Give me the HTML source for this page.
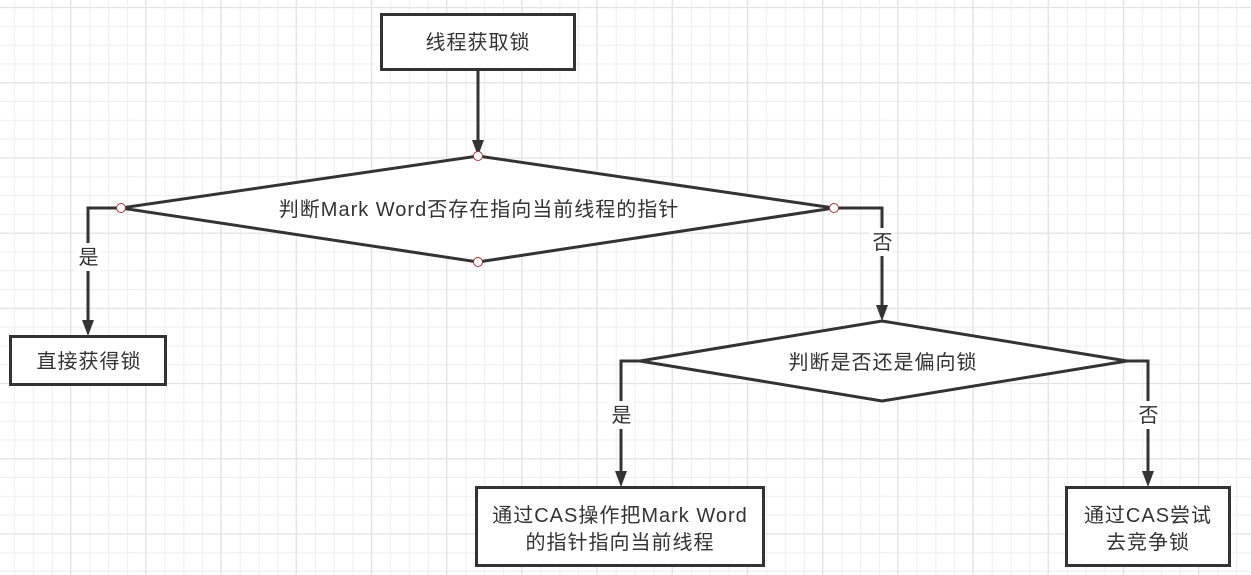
<!DOCTYPE html>
<html><head><meta charset="utf-8"><style>
body{margin:0;background:#fff}
svg{display:block}
text{font-family:"Liberation Sans","Noto Sans CJK SC",sans-serif;font-size:20px;letter-spacing:1px;fill:#333}
</style></head><body>
<svg width="1251" height="575" viewBox="0 0 1251 575" xmlns="http://www.w3.org/2000/svg">
<defs>
<pattern id="g" x="-4.7" y="7" width="18.8" height="18.8" patternUnits="userSpaceOnUse">
<path d="M0 0.5H18.8M0.5 0V18.8" stroke="#efefef" stroke-width="1.2" fill="none"/>
</pattern>
<pattern id="G" x="70" y="7" width="75.2" height="75.2" patternUnits="userSpaceOnUse">
<path d="M0 0.5H75.2M0.5 0V75.2" stroke="#e2e2e2" stroke-width="1.3" fill="none"/>
</pattern>
</defs>
<rect width="1251" height="575" fill="url(#g)"/>
<rect width="1251" height="575" fill="url(#G)"/>
<g stroke="#333" stroke-width="3" fill="none">
<path d="M478 70V142"/>
<path d="M121 208H88V322"/>
<path d="M834 208H882V307"/>
<path d="M640 361H621V473"/>
<path d="M1127 361H1148V473"/>
</g>
<g fill="#333">
<path d="M472 140L484 140L478 156Z"/>
<path d="M82 320L94 320L88 336Z"/>
<path d="M876 305L888 305L882 321Z"/>
<path d="M615 471L627 471L621 487Z"/>
<path d="M1142 471L1154 471L1148 487Z"/>
</g>
<g stroke="#333" stroke-width="3" fill="#fff">
<rect x="381.5" y="14.5" width="193" height="55"/>
<path d="M478 156L834 208L478 262L121 208Z"/>
<rect x="10.5" y="336.5" width="155" height="48"/>
<path d="M882 321L1127 361L882 401L640 361Z"/>
<rect x="476.5" y="487.5" width="287" height="78"/>
<rect x="1066.5" y="487.5" width="163" height="78"/>
</g>
<g fill="#fff">
<rect x="75" y="243" width="26" height="28"/>
<rect x="869" y="228" width="26" height="28"/>
<rect x="608" y="401" width="26" height="28"/>
<rect x="1135" y="401" width="26" height="28"/>
</g>
<g stroke="#a33" stroke-width="1" fill="#fff">
<circle cx="478" cy="156" r="4.5"/>
<circle cx="121" cy="208" r="4.5"/>
<circle cx="834" cy="208" r="4.5"/>
<circle cx="478" cy="262" r="4.5"/>
</g>
<g text-anchor="middle">
<text x="478" y="49">线程获取锁</text>
<text x="479" y="216">判断Mark Word否存在指向当前线程的指针</text>
<text x="89" y="264">是</text>
<text x="883" y="249">否</text>
<text x="89" y="368">直接获得锁</text>
<text x="883" y="369">判断是否还是偏向锁</text>
<text x="622" y="422">是</text>
<text x="1149" y="422">否</text>
<text x="620" y="522">通过CAS操作把Mark Word</text>
<text x="620" y="549">的指针指向当前线程</text>
<text x="1148" y="522">通过CAS尝试</text>
<text x="1148" y="549">去竞争锁</text>
</g>
</svg>
</body></html>
